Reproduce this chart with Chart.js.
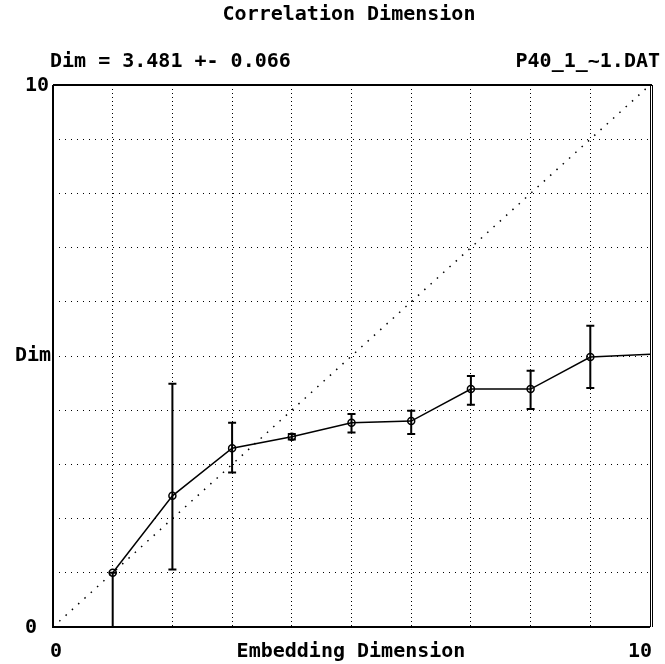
<!DOCTYPE html>
<html>
<head>
<meta charset="utf-8">
<script src="https://cdn.jsdelivr.net/npm/chart.js@4.4.1/dist/chart.umd.min.js"></script>
<style>
  html, body { margin: 0; padding: 0; background: #fff; }
  #wrap { width: 665px; height: 664px; }
</style>
</head>
<body>
<div id="wrap"><canvas id="dimChart" width="665" height="664"></canvas></div>
<script>
// Correlation dimension vs embedding dimension
const embedDims = [1, 2, 3, 4, 5, 6, 7, 8, 9, 10];
const dimValues = [1.0, 2.42, 3.30, 3.51, 3.77, 3.80, 4.39, 4.39, 4.98, 5.03];
const errLow = [0, 1.06, 2.85, 3.46, 3.59, 3.56, 4.10, 4.02, 4.41, null];
const errHigh = [1.0, 4.49, 3.77, 3.56, 3.93, 3.99, 4.63, 4.73, 5.56, null];
const diagX = [0, 10];
const diagY = [0, 10];

const titleText = 'Correlation Dimension';
const resultText = 'Dim = 3.481 +- 0.066';
const fileText = 'P40_1_~1.DAT';
const xAxisLabel = 'Embedding Dimension';
const yAxisLabel = 'Dim';
const xTickLabels = ['0', '10'];
const yTickLabels = ['0', '10'];

const FONT = 'bold 20px "DejaVu Sans Mono", monospace';

// error bars: drawn with the chart's own scales
const errorBars = {
  id: 'errorBars',
  afterDatasetsDraw(chart) {
    const { ctx, scales: { x, y } } = chart;
    ctx.save();
    ctx.strokeStyle = '#000';
    ctx.lineWidth = 2;
    embedDims.forEach((d, i) => {
      if (errLow[i] == null) return;
      const px = x.getPixelForValue(d);
      const top = y.getPixelForValue(errHigh[i]);
      const bot = y.getPixelForValue(errLow[i]);
      ctx.beginPath();
      ctx.moveTo(px, top); ctx.lineTo(px, bot);
      ctx.moveTo(px - 4, top); ctx.lineTo(px + 4, top);
      ctx.moveTo(px - 4, bot); ctx.lineTo(px + 4, bot);
      ctx.stroke();
    });
    ctx.restore();
  }
};

// frame and the DOS-style labels around the plot
const frameAndText = {
  id: 'frameAndText',
  afterDraw(chart) {
    const { ctx, chartArea: a, scales: { x, y } } = chart;
    ctx.save();
    ctx.strokeStyle = '#000';
    ctx.lineWidth = 2;
    ctx.beginPath();
    ctx.moveTo(a.left, a.top); ctx.lineTo(a.left, a.bottom);
    ctx.lineTo(a.right, a.bottom);
    ctx.moveTo(a.left, a.top); ctx.lineTo(a.right + 2, a.top);
    ctx.stroke();
    ctx.lineWidth = 1;
    ctx.beginPath();
    ctx.moveTo(a.right + 0.5, a.top); ctx.lineTo(a.right + 0.5, a.bottom);
    ctx.moveTo(a.right + 2.5, a.top); ctx.lineTo(a.right + 2.5, a.bottom);
    ctx.stroke();

    ctx.fillStyle = '#000';
    ctx.font = FONT;
    ctx.textBaseline = 'middle';
    ctx.textAlign = 'center';
    ctx.fillText(titleText, 349, 15);
    ctx.textAlign = 'left';
    ctx.fillText(resultText, 50, 62);
    ctx.textAlign = 'right';
    ctx.fillText(fileText, 660, 62);

    // y labels
    ctx.fillText(yTickLabels[1], 49, y.getPixelForValue(10) + 1);
    ctx.fillText(yAxisLabel, 51, y.getPixelForValue(5));
    ctx.textAlign = 'center';
    ctx.fillText(yTickLabels[0], 31, y.getPixelForValue(0) + 1);

    // x labels
    ctx.fillText(xTickLabels[0], x.getPixelForValue(0) + 3, 652);
    ctx.fillText(xTickLabels[1], x.getPixelForValue(10) - 10, 652);
    ctx.fillText(xAxisLabel, 351, 652);
    ctx.restore();
  }
};

const ctx = document.getElementById('dimChart').getContext('2d');
new Chart(ctx, {
  type: 'line',
  data: {
    datasets: [
      {
        label: 'Dim',
        data: embedDims.map((d, i) => ({ x: d, y: dimValues[i] })),
        borderColor: '#000',
        borderWidth: 1.5,
        pointRadius: embedDims.map((d, i) => (errLow[i] == null ? 0 : 3.5)),
        pointBorderWidth: 1.5,
        pointBorderColor: '#000',
        pointBackgroundColor: 'rgba(255,255,255,0)',
        tension: 0,
        clip: false
      },
      {
        label: 'y = x',
        data: diagX.map((v, i) => ({ x: v, y: diagY[i] })),
        borderColor: '#000',
        borderWidth: 1.5,
        borderDash: [1.5, 7],
        pointRadius: 0,
        tension: 0
      }
    ]
  },
  options: {
    responsive: false,
    animation: false,
    events: [],
    layout: { padding: { left: 53, right: 15, top: 85, bottom: 37 } },
    plugins: {
      legend: { display: false },
      title: { display: false },
      tooltip: { enabled: false }
    },
    scales: {
      x: {
        type: 'linear',
        min: 0, max: 10,
        ticks: { display: false, stepSize: 1 },
        grid: { color: '#000', lineWidth: 1, drawTicks: false, tickBorderDash: [1, 3] },
        border: { display: false, dash: [1, 3] }
      },
      y: {
        type: 'linear',
        min: 0, max: 10,
        ticks: { display: false, stepSize: 1 },
        grid: { color: '#000', lineWidth: 1, drawTicks: false },
        border: { display: false, dash: [1, 5] }
      }
    }
  },
  plugins: [errorBars, frameAndText]
});
</script>
</body>
</html>
